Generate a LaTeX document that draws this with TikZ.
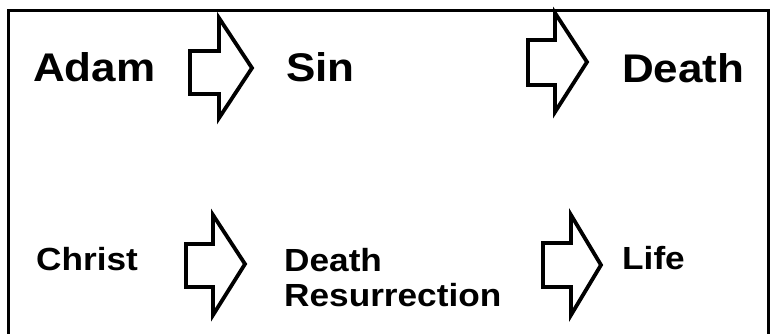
\documentclass[tikz,border=0pt]{standalone}
\usepackage{fontspec}
\newfontfamily\bigsans[FakeStretch=1.1]{Liberation Sans}
\begin{document}
\begin{tikzpicture}[x=1pt,y=-1pt,
  bigword/.style={anchor=base west,inner sep=0pt,font=\bigsans\bfseries\fontsize{40}{48}\selectfont},
  smallword/.style={anchor=base west,inner sep=0pt,align=left,font=\bigsans\bfseries\fontsize{32}{35}\selectfont},
  blockarrow/.style={draw=black,line width=3.8pt,line join=miter,fill=white}]
\useasboundingbox (0,0) rectangle (778,333);
\clip (0,0) rectangle (778,333);
\fill[white] (0,0) rectangle (778,333);
\draw[line width=3pt] (8.5,10.5) rectangle (768.5,345);
% words
\node[bigword] (adam) at (33,81) {Adam};
\node[bigword] (sin) at (286,81) {Sin};
\node[bigword] (death) at (622,82) {Death};
\node[smallword] (christ) at (36,270) {Christ};
\node[smallword] (deathres) at (284,306) {Death\\Resurrection};
\node[smallword] (life) at (622,269) {Life};
% block arrows
\draw[blockarrow] (190,51) -- (219,51) -- (219,18) -- (252,68) -- (219,118) -- (219,94) -- (190,94) -- cycle;
\draw[blockarrow] (528,40) -- (555,40) -- (555,13) -- (587,62) -- (555,112) -- (555,85) -- (528,85) -- cycle;
\draw[blockarrow] (186,244) -- (213,244) -- (213,215) -- (245,264) -- (213,315) -- (213,287) -- (186,287) -- cycle;
\draw[blockarrow] (543,243) -- (571,243) -- (571,215) -- (601,265) -- (571,315) -- (571,287) -- (543,287) -- cycle;
\end{tikzpicture}
\end{document}
